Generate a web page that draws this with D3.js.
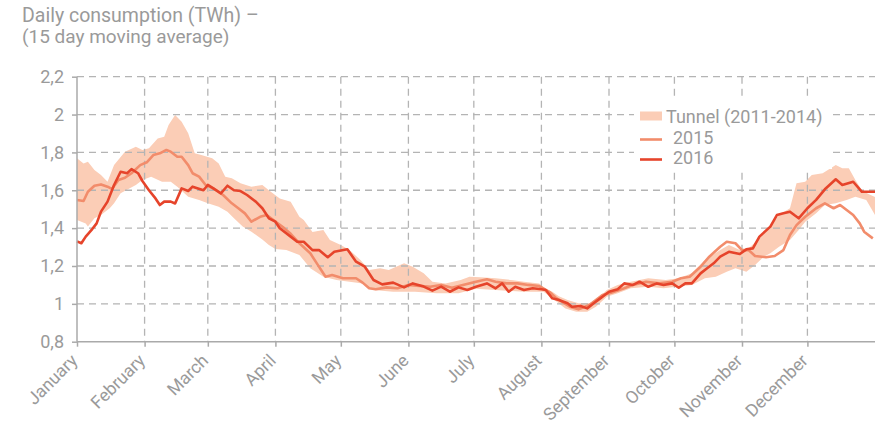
<!DOCTYPE html>
<html>
<head>
<meta charset="utf-8" />
<title>Daily consumption</title>
<script src="https://d3js.org/d3.v7.min.js"></script>
<style>
  body { margin: 0; background: #fff; }
  svg text { font-family: Roboto, "Noto Sans", sans-serif; fill: #9a9a9a; }
  .grid line { stroke: #b4b4b4; stroke-width: 1.3px; stroke-dasharray: 7,5; }
  .axis path, .axis line { stroke: #aaaaaa; stroke-width: 1.5px; }
</style>
</head>
<body>
<svg id="chart" width="875" height="425"></svg>
<script>
// day of year (0 = 1 January) and value in TWh
var tunnelHigh = [[0,1.769],[3,1.742],[5,1.751],[8,1.707],[11,1.681],[14,1.645],[17,1.733],[22,1.804],[27,1.83],[30,1.813],[33,1.822],[37,1.874],[40,1.883],[42,1.945],[45,1.998],[48,1.962],[51,1.901],[54,1.795],[57,1.786],[62,1.769],[65,1.742],[68,1.672],[71,1.663],[75,1.637],[80,1.619],[85,1.628],[88,1.60],[93,1.557],[98,1.54],[102,1.46],[104,1.443],[108,1.38],[113,1.39],[116,1.337],[121,1.311],[125,1.284],[130,1.232],[134,1.179],[139,1.188],[143,1.179],[150,1.214],[154,1.196],[159,1.161],[163,1.117],[169,1.108],[176,1.126],[180,1.143],[185,1.14],[192,1.135],[200,1.125],[205,1.117],[212,1.108],[215,1.08],[218,1.064],[221,1.04],[225,1.02],[230,1.003],[235,1.003],[239,1.029],[243,1.073],[248,1.10],[254,1.117],[262,1.135],[270,1.126],[276,1.135],[282,1.161],[288,1.232],[295,1.284],[299,1.311],[304,1.284],[308,1.293],[313,1.346],[318,1.408],[322,1.469],[327,1.505],[330,1.637],[334,1.645],[337,1.681],[342,1.69],[348,1.733],[351,1.716],[354,1.716],[357,1.654],[360,1.60],[363,1.58],[366,1.565]];

var tunnelLow = [[0,1.443],[4,1.425],[5,1.408],[8,1.452],[11,1.469],[15,1.505],[17,1.531],[20,1.584],[24,1.61],[27,1.628],[30,1.654],[34,1.672],[39,1.645],[43,1.645],[46,1.619],[51,1.566],[56,1.549],[60,1.531],[65,1.513],[69,1.487],[72,1.452],[76,1.408],[80,1.381],[85,1.34],[88,1.311],[91,1.29],[96,1.284],[102,1.258],[107,1.188],[113,1.143],[119,1.126],[125,1.117],[131,1.108],[136,1.073],[145,1.064],[155,1.064],[165,1.056],[175,1.056],[183,1.08],[192,1.073],[205,1.064],[214,1.064],[219,1.02],[224,0.976],[229,0.958],[234,0.958],[238,0.985],[243,1.038],[248,1.056],[254,1.082],[262,1.09],[269,1.082],[275,1.09],[282,1.10],[288,1.135],[293,1.143],[298,1.17],[302,1.188],[307,1.17],[311,1.205],[315,1.249],[318,1.267],[322,1.302],[327,1.337],[331,1.39],[334,1.434],[339,1.478],[343,1.522],[348,1.531],[353,1.549],[357,1.566],[362,1.549],[366,1.47]];

var y2015 = [[0,1.549],[3,1.543],[5,1.592],[8,1.624],[11,1.631],[14,1.619],[16,1.607],[19,1.654],[22,1.666],[25,1.69],[29,1.733],[32,1.748],[35,1.786],[38,1.795],[41,1.813],[43,1.804],[46,1.777],[48,1.777],[51,1.733],[53,1.69],[56,1.672],[59,1.628],[63,1.607],[67,1.575],[71,1.531],[74,1.505],[77,1.478],[80,1.434],[84,1.46],[87,1.469],[91,1.435],[95,1.40],[98,1.37],[102,1.32],[107,1.267],[110,1.214],[114,1.143],[117,1.152],[122,1.135],[128,1.135],[131,1.112],[134,1.082],[137,1.077],[142,1.087],[147,1.082],[152,1.10],[157,1.095],[162,1.09],[167,1.10],[172,1.085],[177,1.10],[183,1.117],[188,1.13],[192,1.117],[197,1.108],[202,1.108],[207,1.10],[212,1.094],[217,1.06],[220,1.029],[226,0.985],[230,0.971],[235,0.994],[241,1.047],[245,1.059],[251,1.082],[255,1.10],[261,1.117],[267,1.108],[273,1.117],[277,1.135],[281,1.143],[286,1.196],[290,1.249],[295,1.302],[298,1.328],[302,1.32],[305,1.284],[308,1.284],[311,1.253],[316,1.246],[320,1.253],[324,1.284],[327,1.364],[330,1.416],[334,1.46],[339,1.505],[343,1.531],[347,1.505],[350,1.522],[353,1.496],[356,1.469],[359,1.425],[361,1.381],[365,1.346]];

var y2016 = [[0,1.33],[2,1.32],[4,1.355],[7,1.395],[9,1.425],[11,1.487],[14,1.54],[17,1.628],[20,1.698],[23,1.69],[25,1.712],[28,1.69],[30,1.649],[33,1.60],[36,1.557],[38,1.522],[40,1.54],[43,1.54],[45,1.53],[48,1.61],[51,1.596],[53,1.619],[58,1.60],[60,1.628],[62,1.614],[66,1.584],[69,1.624],[72,1.60],[75,1.596],[78,1.575],[82,1.54],[85,1.505],[88,1.452],[91,1.434],[93,1.399],[98,1.355],[101,1.328],[104,1.328],[108,1.284],[111,1.284],[115,1.246],[118,1.275],[124,1.288],[128,1.223],[132,1.196],[136,1.126],[140,1.103],[145,1.112],[150,1.087],[154,1.108],[159,1.091],[163,1.07],[167,1.091],[171,1.064],[175,1.087],[179,1.073],[183,1.09],[188,1.108],[192,1.082],[195,1.108],[198,1.064],[201,1.09],[205,1.073],[209,1.082],[213,1.077],[215,1.073],[218,1.029],[221,1.02],[225,1.003],[227,0.985],[231,0.989],[234,0.976],[237,1.003],[240,1.029],[244,1.064],[248,1.077],[251,1.108],[255,1.10],[258,1.117],[262,1.09],[266,1.108],[269,1.10],[273,1.108],[276,1.085],[279,1.108],[282,1.108],[286,1.161],[289,1.188],[292,1.214],[295,1.249],[299,1.275],[304,1.263],[307,1.288],[310,1.293],[313,1.355],[318,1.408],[321,1.469],[324,1.478],[327,1.487],[329,1.469],[331,1.452],[335,1.505],[339,1.549],[343,1.605],[348,1.658],[351,1.628],[356,1.645],[360,1.592],[366,1.592]];

var monthLabels = ["January","February","March","April","May","June","July","August","September","October","November","December"];
var yTicks = [0.8, 1, 1.2, 1.4, 1.6, 1.8, 2, 2.2];
var legendLabels = ["Tunnel (2011-2014)", "2015", "2016"];

var colBand = "#fbcdb6", col2015 = "#f28c6b", col2016 = "#e6442b";

var svg = d3.select("#chart");
var left = 77, right = 875, plotTop = 76.7, bottom = 341.7;

var start = new Date(2016, 0, 1);
function dayToDate(d) { return d3.timeDay.offset(start, d); }

var x = d3.scaleTime().domain([start, new Date(2017, 0, 1)]).range([left, right]);
var y = d3.scaleLinear().domain([0.8, 2.2]).range([bottom, plotTop]);

var months = d3.range(12).map(function(i) { return new Date(2016, i, 1); });
var fmt = d3.formatLocale({decimal: ",", thousands: ".", grouping: [3], currency: ["", ""]}).format("~g");

// tunnel band: upper edge forward, lower edge back
var bandPts = tunnelHigh.concat(tunnelLow.slice().reverse());
var ptLine = d3.line()
    .x(function(d) { return x(dayToDate(d[0])); })
    .y(function(d) { return y(d[1]); });
svg.append("path")
    .attr("d", ptLine(bandPts) + "Z")
    .attr("fill", colBand)
    .attr("stroke", "none");

// grid
var grid = svg.append("g").attr("class", "grid");
grid.selectAll(".h").data(yTicks.slice(1)).enter().append("line")
    .attr("x1", left).attr("x2", right)
    .attr("y1", function(d) { return y(d); }).attr("y2", function(d) { return y(d); });
grid.selectAll(".v").data(months.slice(1)).enter().append("line")
    .attr("x1", function(d) { return x(d); }).attr("x2", function(d) { return x(d); })
    .attr("y1", plotTop).attr("y2", bottom);

// series
svg.append("path").datum(y2015)
    .attr("d", ptLine).attr("fill", "none")
    .attr("stroke", col2015).attr("stroke-width", 2.6).attr("stroke-linejoin", "round");
svg.append("path").datum(y2016)
    .attr("d", ptLine).attr("fill", "none")
    .attr("stroke", col2016).attr("stroke-width", 2.6).attr("stroke-linejoin", "round");

// axes
var yAxis = svg.append("g").attr("class", "axis")
    .attr("transform", "translate(" + left + ",0)")
    .call(d3.axisLeft(y).tickValues(yTicks).tickFormat(fmt).tickSize(5).tickPadding(8).tickSizeOuter(0));
yAxis.selectAll("text").style("font-size", "18px");
yAxis.select(".domain").attr("d", "M0," + bottom + "V" + plotTop);

var xAxis = svg.append("g").attr("class", "axis")
    .attr("transform", "translate(0," + bottom + ")")
    .call(d3.axisBottom(x).tickValues(months).tickFormat(function(d, i) { return monthLabels[i]; }).tickSize(5).tickSizeOuter(0));
xAxis.selectAll("text")
    .style("font-size", "17.5px")
    .style("text-anchor", "end")
    .attr("x", 0).attr("y", 0).attr("dy", 0)
    .attr("transform", "translate(1,20) rotate(-45)");
xAxis.select(".domain").attr("d", "M" + left + ",0H" + right);

// title
svg.append("text").attr("x", 22).attr("y", 22).style("font-size", "19.5px").text("Daily consumption (TWh) \u2013");
svg.append("text").attr("x", 22).attr("y", 43).style("font-size", "19px").text("(15 day moving average)");

// legend
var lg = svg.append("g");
lg.append("rect").attr("x", 634).attr("y", 99).attr("width", 198).attr("height", 70).attr("fill", "#fff");
lg.append("rect").attr("x", 640).attr("y", 111.5).attr("width", 22).attr("height", 9).attr("fill", colBand);
lg.append("line").attr("x1", 640).attr("x2", 662).attr("y1", 139.5).attr("y2", 139.5).attr("stroke", col2015).attr("stroke-width", 2.6);
lg.append("line").attr("x1", 640).attr("x2", 662).attr("y1", 159.5).attr("y2", 159.5).attr("stroke", col2016).attr("stroke-width", 2.6);
lg.selectAll("text").data(legendLabels).enter().append("text")
    .attr("x", function(d, i) { return i === 0 ? 666 : 673; })
    .attr("y", function(d, i) { return 123 + i * 20.5; })
    .style("font-size", "18px")
    .text(function(d) { return d; });
</script>
</body>
</html>
